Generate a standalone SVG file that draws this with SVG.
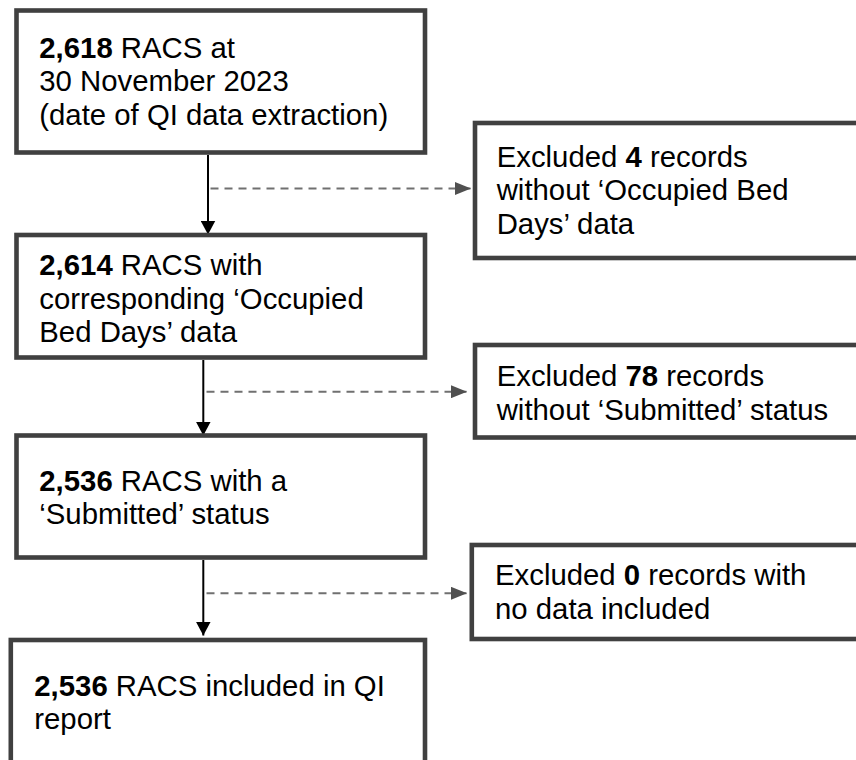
<svg xmlns="http://www.w3.org/2000/svg" width="856" height="760" viewBox="0 0 856 760">
<style>
.box{fill:#fff;stroke:#404040;stroke-width:4.6}
.t{font-family:"Liberation Sans",Arial,sans-serif;font-size:29.33px;fill:#000}
.b{font-weight:bold}
.solid{stroke:#000;stroke-width:2;fill:none}
.dash{stroke:#707070;stroke-width:2;stroke-dasharray:8 6;fill:none}
</style>
<defs>
<marker id="ah" markerWidth="15" markerHeight="15" refX="14" refY="7.5" orient="auto" markerUnits="userSpaceOnUse">
<path d="M0,0 L14,7.5 L0,15 Z" fill="#000"/>
</marker>
<marker id="ahg" markerWidth="16" markerHeight="13" refX="16" refY="6.5" orient="auto" markerUnits="userSpaceOnUse">
<path d="M0,0 L16,6.5 L0,13 Z" fill="#505050"/>
</marker>
</defs>
<rect width="856" height="760" fill="#fff"/>
<g id="connectors">
<line class="solid" x1="208" y1="155" x2="208" y2="234.5" marker-end="url(#ah)"/>
<line class="dash" x1="210.5" y1="188.5" x2="471" y2="188.5" marker-end="url(#ahg)"/>
<line class="solid" x1="203.3" y1="360" x2="203.3" y2="435.5" marker-end="url(#ah)"/>
<line class="dash" x1="206.5" y1="391.7" x2="467" y2="391.7" marker-end="url(#ahg)"/>
<line class="solid" x1="203.3" y1="560" x2="203.3" y2="635.5" marker-end="url(#ah)"/>
<line class="dash" x1="206.5" y1="593.3" x2="467" y2="593.3" marker-end="url(#ahg)"/>
</g>
<g id="n1">
<rect class="box" x="16.5" y="10.5" width="408.5" height="142"/>
<text class="t" x="39.3" y="57.5"><tspan class="b">2,618</tspan> RACS at</text>
<text class="t" x="39.3" y="91">30 November 2023</text>
<text class="t" x="39.3" y="124.5">(date of QI data extraction)</text>
</g>
<g id="e1">
<rect class="box" x="475" y="123" width="420" height="135"/>
<text class="t" x="496.7" y="166.7">Excluded <tspan class="b">4</tspan> records</text>
<text class="t" x="496.7" y="200.2">without ‘Occupied Bed</text>
<text class="t" x="496.7" y="233.7">Days’ data</text>
</g>
<g id="n2">
<rect class="box" x="16.5" y="235" width="408.5" height="122.5"/>
<text class="t" x="39.3" y="275"><tspan class="b">2,614</tspan> RACS with</text>
<text class="t" x="39.3" y="308.5">corresponding ‘Occupied</text>
<text class="t" x="39.3" y="342">Bed Days’ data</text>
</g>
<g id="e2">
<rect class="box" x="475" y="345" width="420" height="92.5"/>
<text class="t" x="496.7" y="386">Excluded <tspan class="b">78</tspan> records</text>
<text class="t" x="496.7" y="419.5">without ‘Submitted’ status</text>
</g>
<g id="n3">
<rect class="box" x="16.5" y="435.5" width="408.5" height="122"/>
<text class="t" x="39.3" y="490.7"><tspan class="b">2,536</tspan> RACS with a</text>
<text class="t" x="39.3" y="524">‘Submitted’ status</text>
</g>
<g id="e3">
<rect class="box" x="471.8" y="545" width="420" height="94"/>
<text class="t" x="495" y="585">Excluded <tspan class="b">0</tspan> records with</text>
<text class="t" x="495" y="618.5">no data included</text>
</g>
<g id="n4">
<rect class="box" x="10.8" y="640" width="414.2" height="140"/>
<text class="t" x="34.3" y="696"><tspan class="b">2,536</tspan> RACS included in QI</text>
<text class="t" x="34.3" y="728.5">report</text>
</g>
</svg>
